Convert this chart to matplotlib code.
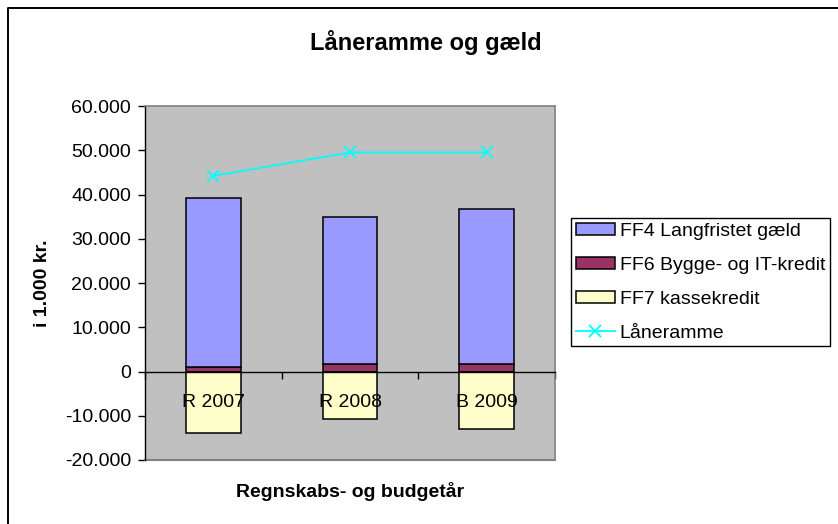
import matplotlib
matplotlib.use("Agg")
import matplotlib.pyplot as plt
from matplotlib.lines import Line2D
from matplotlib.patches import Patch
from matplotlib.ticker import FuncFormatter, FixedLocator

plt.rcParams['font.family'] = ['Liberation Sans', 'DejaVu Sans']

# data (1.000 kr.)
years = ['R 2007', 'R 2008', 'B 2009']
ff4_langfristet = [38100, 33300, 35000]
ff6_bygge_it = [1050, 1650, 1650]
ff7_kassekredit = [-13800, -10800, -13100]
laaneramme = [44200, 49500, 49500]

W, H = 838, 524
fig = plt.figure(figsize=(W / 100, H / 100), dpi=100)

# chart frame (only top/left visible in the original)
fig.add_artist(Line2D([8 / W, 8 / W, 1.0], [0.0, 1 - 8 / H, 1 - 8 / H],
                      transform=fig.transFigure, color='black', lw=1.4))

left, right, top, bottom = 145, 555, 106, 460
ax = fig.add_axes([left / W, 1 - bottom / H, (right - left) / W, (bottom - top) / H])
ax.set_facecolor('#C0C0C0')

x = list(range(len(years)))
bw = 0.40
ax.bar(x, ff6_bygge_it, bw, color='#993366', edgecolor='black', lw=1.1)
ax.bar(x, ff4_langfristet, bw, bottom=ff6_bygge_it, color='#9999FF',
       edgecolor='black', lw=1.1)
ax.bar(x, ff7_kassekredit, bw, color='#FFFFCC', edgecolor='black', lw=1.1)
ax.plot(x, laaneramme, color='#00FFFF', lw=1.3, marker='x', ms=8, mew=1.3,
        zorder=3)

ax.set_xlim(-0.5, 2.5)
ax.set_ylim(-20000, 60000)
ax.set_yticks(range(-20000, 60001, 10000))
ax.yaxis.set_major_formatter(FuncFormatter(lambda v, p: f"{int(v):,}".replace(',', '.')))
ax.tick_params(axis='y', direction='out', length=5, width=1, pad=5, labelsize=14)

# category axis sits on zero line
ax.spines['bottom'].set_position(('data', 0))
ax.spines['bottom'].set_linewidth(1)
ax.spines['left'].set_linewidth(1)
for s in ('top', 'right'):
    ax.spines[s].set_color('#808080')
    ax.spines[s].set_linewidth(1.2)
ax.axhline(-20000, color='#808080', lw=1.5, clip_on=False)

ax.xaxis.set_major_locator(FixedLocator([-0.5, 0.5, 1.5, 2.5]))
ax.xaxis.set_major_formatter(FuncFormatter(lambda v, p: ''))
ax.xaxis.set_minor_locator(FixedLocator(x))
ax.set_xticks(x, years, minor=True)
ax.tick_params(axis='x', which='major', direction='out', length=5, width=1)
ax.tick_params(axis='x', which='minor', length=0, pad=16, labelsize=14)

ax.set_xlabel('Regnskabs- og budgetår', fontsize=14, fontweight='bold', va='center')
ax.xaxis.set_label_coords(0.5, -0.09)
ax.set_ylabel('i 1.000 kr.', fontsize=14, fontweight='bold', va='center')
ax.yaxis.set_label_coords(-0.251, 0.5)

fig.text(426 / W, 1 - 43 / H, 'Låneramme og gæld', ha='center', va='center',
         fontsize=17, fontweight='bold')

handles = [
    Patch(facecolor='#9999FF', edgecolor='black', lw=1.1),
    Patch(facecolor='#993366', edgecolor='black', lw=1.1),
    Patch(facecolor='#FFFFCC', edgecolor='black', lw=1.1),
    Line2D([], [], color='#00FFFF', lw=1.3, marker='x', ms=8, mew=1.3),
]
labels = ['FF4 Langfristet gæld', 'FF6 Bygge- og IT-kredit', 'FF7 kassekredit', 'Låneramme']
leg = fig.legend(handles, labels, loc='upper left',
                 bbox_to_anchor=(571 / W, 1 - 218 / H), bbox_transform=fig.transFigure,
                 borderaxespad=0, fontsize=14, frameon=True, fancybox=False,
                 edgecolor='black', framealpha=1, handlelength=2.0,
                 handleheight=0.57, handletextpad=0.25, labelspacing=0.87,
                 borderpad=0.25)
leg.get_frame().set_linewidth(1.0)

fig.savefig('out.png', dpi=100)
